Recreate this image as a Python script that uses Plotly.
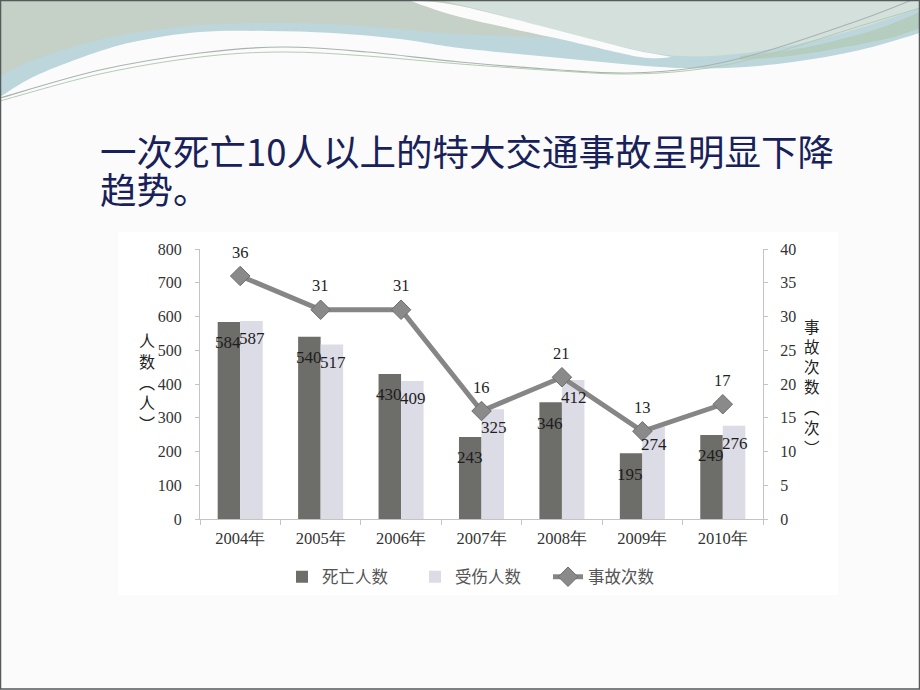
import plotly.graph_objects as go

# ---------------- data ----------------
years = ["2004年", "2005年", "2006年", "2007年", "2008年", "2009年", "2010年"]
deaths = [584, 540, 430, 243, 346, 195, 249]
injuries = [587, 517, 409, 325, 412, 274, 276]
accidents = [36, 31, 31, 16, 21, 13, 17]
series_names = ["死亡人数", "受伤人数", "事故次数"]
left_ticks = [0, 100, 200, 300, 400, 500, 600, 700, 800]
right_ticks = [0, 5, 10, 15, 20, 25, 30, 35, 40]

# ---------------- layout helpers ----------------
W, H = 920, 690
L, R, T, B = 200, 763, 249, 519


def px(x):
    return (x - L) / (R - L)


def py(y):
    return (B - y) / (B - T)


def pt(p):
    return f"{px(p[0]):.5f},{py(p[1]):.5f}"


def curve(pts):
    s = ""
    n = len(pts)
    for i in range(n - 1):
        p0 = pts[i - 1] if i > 0 else pts[i]
        p1 = pts[i]
        p2 = pts[i + 1]
        p3 = pts[i + 2] if i + 2 < n else pts[i + 1]
        c1 = (p1[0] + (p2[0] - p0[0]) / 6, p1[1] + (p2[1] - p0[1]) / 6)
        c2 = (p2[0] - (p3[0] - p1[0]) / 6, p2[1] - (p3[1] - p1[1]) / 6)
        s += f" C {pt(c1)} {pt(c2)} {pt(p2)}"
    return s


shapes = []


def add_path(path, fill=None, line_color=None, width=0, opacity=1.0):
    shapes.append(dict(type="path", xref="paper", yref="paper", path=path,
                       fillcolor=fill if fill else "rgba(0,0,0,0)",
                       line=dict(color=line_color if line_color else "rgba(0,0,0,0)", width=width),
                       layer="below", opacity=opacity))


# big left shape + band (bluish base)
lower = [(920, 33), (860, 50), (793, 62), (727, 68), (660, 67), (560, 58), (460, 48),
         (400, 39), (333, 33), (267, 31), (200, 32), (133, 42), (83, 57), (33, 77), (0, 97)]
add_path(f"M {pt((0, 0))} L {pt((920, 0))} L {pt((920, 33))}" + curve(lower) + " Z", fill="#bdd6dc")
# greenish-gray upper overlay
upper = [(700, 30), (600, 38), (460, 34), (400, 29), (333, 24), (267, 23), (200, 25),
         (133, 33), (83, 44), (33, 60), (0, 76)]
add_path(f"M {pt((0, 0))} L {pt((700, 0))} L {pt((700, 30))}" + curve(upper) + " Z", fill="#c5cfc3", opacity=0.92)
# greenish stripes near the right
green = [(920, 12), (880, 28), (830, 42), (790, 50), (740, 56)]
green_b = [(740, 60), (790, 56), (840, 48), (890, 38), (920, 28)]
add_path(f"M {pt((920, 12))}" + curve(green) + f" L {pt((740, 60))}" + curve(green_b) + " Z",
         fill="#b4cdbf")
# right-top pale shape
rt = [(920, 8), (860, 28), (793, 45), (727, 55), (667, 55), (600, 42), (560, 33), (500, 15), (440, 0)]
add_path(f"M {pt((440, 0))} L {pt((920, 0))} L {pt((920, 8))}" + curve(rt) + " Z", fill="#d4e0dc")
# white stripe
st_top = [(408, 0), (460, 6), (560, 31), (630, 49), (672, 57)]
st_bot = [(672, 57), (640, 57), (560, 39), (460, 17), (408, 0)]
add_path(f"M {pt((408, 0))}" + curve(st_top) + curve(st_bot) + " Z", fill="#fbfbfb")
# thin lines
line1 = [(0, 98), (100, 70), (200, 53), (283, 47), (367, 52), (460, 62), (560, 70),
         (627, 73), (693, 68), (760, 53), (860, 20), (912, 0)]
line2 = [(0, 101), (100, 74), (200, 57), (283, 52), (367, 56), (460, 64), (560, 71),
         (627, 74), (693, 70), (760, 57), (860, 26), (920, 8)]
add_path(f"M {pt(line1[0])}" + curve(line1), line_color="#aab2b2", width=1.2)
add_path(f"M {pt(line2[0])}" + curve(line2), line_color="#b3ccb3", width=1)

# chart picture white area
shapes.append(dict(type="rect", xref="paper", yref="paper", x0=px(118), x1=px(838), y0=py(232), y1=py(595),
                   fillcolor="#ffffff", line=dict(width=0), layer="below"))
# slide border
shapes.append(dict(type="rect", xref="paper", yref="paper", x0=px(0.5), x1=px(919.5), y0=py(0.5), y1=py(689),
                   fillcolor="rgba(0,0,0,0)", line=dict(color="#555a5a", width=1.5), layer="above"))

# ---------------- traces ----------------
serif = "Liberation Serif, Times New Roman, serif"
fig = go.Figure()
fig.add_trace(go.Bar(x=years, y=deaths, name=series_names[0], marker=dict(color="#6d6d69", line=dict(width=0))))
fig.add_trace(go.Bar(x=years, y=injuries, name=series_names[1], marker=dict(color="#dcdce7", line=dict(width=0))))
fig.add_trace(go.Scatter(x=years, y=accidents, name=series_names[2], yaxis="y2", mode="lines+markers",
                         line=dict(color="#868686", width=5),
                         marker=dict(symbol="diamond", size=15, color="#8a8a8a",
                                     line=dict(color="#6e6e6e", width=1))))

annotations = []
for yr, d, inj, a in zip(years, deaths, injuries, accidents):
    annotations.append(dict(x=yr, y=d, xref="x", yref="y", text=str(d), showarrow=False,
                            xshift=-12, yshift=-21, font=dict(family=serif, size=17, color="#1e1e1e")))
    annotations.append(dict(x=yr, y=inj, xref="x", yref="y", text=str(inj), showarrow=False,
                            xshift=12, yshift=-18, font=dict(family=serif, size=17, color="#1e1e1e")))
    annotations.append(dict(x=yr, y=a, xref="x", yref="y2", text=str(a), showarrow=False,
                            yshift=24, font=dict(family=serif, size=16.5, color="#1e1e1e")))

cjk = "Noto Sans CJK SC"
annotations.append(dict(x=px(137), y=py(381), xref="paper", yref="paper", showarrow=False,
                        text="人<br>数<br>︵<br>人<br>︶", font=dict(family=cjk, size=16, color="#222")))
annotations.append(dict(x=px(822), y=py(386), xref="paper", yref="paper", showarrow=False,
                        text="事<br>故<br>次<br>数<br>︵<br>次<br>︶", font=dict(family=cjk, size=15.5, color="#222")))
title_col = "#18215a"
annotations.append(dict(x=px(98), y=py(150), xref="paper", yref="paper", showarrow=False,
                        xanchor="left", yanchor="middle", text="一次死亡10人以上的特大交通事故呈明显下降",
                        font=dict(family=cjk, size=36.5, color=title_col)))
annotations.append(dict(x=px(98), y=py(188), xref="paper", yref="paper", showarrow=False,
                        xanchor="left", yanchor="middle", text="趋势。",
                        font=dict(family=cjk, size=36.5, color=title_col)))

axis_col = "#c4c4c4"
tick_font = dict(family=serif, size=16, color="#333")
fig.update_layout(
    width=W, height=H,
    margin=dict(l=L, r=W - R, t=T, b=H - B),
    paper_bgcolor="#fbfbfb", plot_bgcolor="rgba(0,0,0,0)",
    barmode="group", bargap=0.44, bargroupgap=0,
    showlegend=True,
    legend=dict(orientation="h", x=0.5, xanchor="center", y=py(577), yanchor="middle",
                font=dict(family=cjk, size=16.5, color="#555"), bgcolor="rgba(0,0,0,0)",
                itemwidth=30, traceorder="normal", entrywidth=88, entrywidthmode="pixels"),
    xaxis=dict(type="category", showline=True, linecolor=axis_col, linewidth=1, ticks="outside",
               tickson="boundaries", ticklen=5, tickcolor=axis_col, showgrid=False,
               tickfont=dict(family=serif, size=16.5, color="#333"), ticklabelstandoff=4),
    yaxis=dict(range=[0, 800], tickvals=left_ticks, showline=True, linecolor=axis_col, ticks="outside",
               ticklen=4, tickcolor=axis_col, showgrid=False, zeroline=False, tickfont=tick_font,
               ticklabelstandoff=10),
    yaxis2=dict(range=[0, 40], tickvals=right_ticks, overlaying="y", side="right", showline=True,
                linecolor=axis_col, ticks="outside", ticklen=4, tickcolor=axis_col, showgrid=False,
                zeroline=False, tickfont=tick_font, ticklabelstandoff=9),
    shapes=shapes,
    annotations=annotations,
)

fig.write_html("out.html")
